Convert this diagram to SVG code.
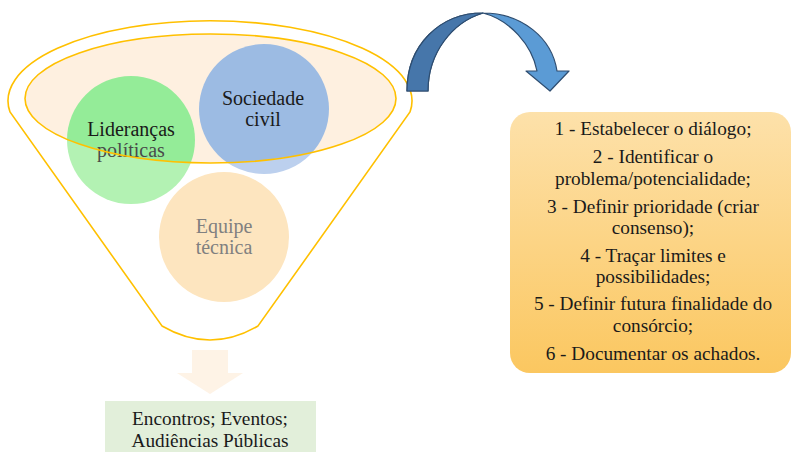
<svg xmlns="http://www.w3.org/2000/svg" width="793" height="452" viewBox="0 0 793 452">
<defs>
<style>
.t{font-family:"Liberation Serif","Times New Roman",serif;text-anchor:middle;fill:#1a1a1a}
.c{font-size:20px}
.b{font-size:19.3px}
.gold{fill:none;stroke:#FFC000;stroke-width:1.6}
</style>
<linearGradient id="boxg" x1="0" y1="0" x2="0" y2="1">
<stop offset="0" stop-color="#FDE1AA"/>
<stop offset="1" stop-color="#FBC760"/>
</linearGradient>
<clipPath id="inner"><ellipse cx="210.5" cy="98.5" rx="185.5" ry="64.5"/></clipPath>
</defs>
<rect width="793" height="452" fill="#ffffff"/>

<g id="funnel">
<path class="gold" d="M10,112 A202,80 0 1 1 410,112 L258,326 Q210,354 162,326 Z" fill="#ffffff"/>
</g>

<g id="circles-base">
<circle cx="131" cy="140" r="64" fill="#B3F2B3"/>
<circle cx="264" cy="109" r="65" fill="#BCD0EE"/>
<circle cx="224" cy="237" r="65" fill="#FDE5BF"/>
</g>

<g id="inner-ellipse">
<ellipse cx="210.5" cy="98.5" rx="185.5" ry="64.5" fill="#FEF0E0"/>
<g clip-path="url(#inner)">
<circle cx="131" cy="140" r="64" fill="#94EC98"/>
<circle cx="264" cy="109" r="65" fill="#9CBBE3"/>
</g>
</g>

<g id="node-liderancas">
<text class="t c" x="131" y="136">Lideranças</text>
<text class="t c" x="131" y="157" style="fill:#4a4a4a">políticas</text>
</g>
<g id="node-sociedade">
<text class="t c" x="263" y="105">Sociedade</text>
<text class="t c" x="263" y="126">civil</text>
</g>
<g id="node-equipe">
<text class="t c" x="224" y="233" style="fill:#808080">Equipe</text>
<text class="t c" x="224" y="254" style="fill:#808080">técnica</text>
</g>

<ellipse class="gold" cx="210.5" cy="98.5" rx="185.5" ry="64.5"/>

<g id="connectors">
<path d="M407,91 L428,91 C428,52 453,22 483,13 C510,20 532,45 537,71 L526,71 L550,91 L569,71 L557,71 C552,38 522,13 483,13 C440,13 407,45 407,91 Z" fill="#5B9BD5" stroke="#2E4D70" stroke-width="1.2" stroke-linejoin="round"/>
<path d="M407,91 L428,91 C428,52 453,22 483,13 C440,13 407,45 407,91 Z" fill="#4676AA" stroke="#2E4D70" stroke-width="1.2" stroke-linejoin="round"/>
<path d="M192,350 L228,350 L228,373 L243,373 L210,394 L177,373 L192,373 Z" fill="#FEF3E6"/>
</g>

<g id="node-steps">
<rect x="510" y="112" width="281" height="261" rx="20" fill="url(#boxg)"/>
<text class="t b" x="653" y="135">1 - Estabelecer o diálogo;</text>
<text class="t b" x="653" y="163">2 - Identificar o</text>
<text class="t b" x="653" y="185">problema/potencialidade;</text>
<text class="t b" x="653" y="213">3 - Definir prioridade (criar</text>
<text class="t b" x="653" y="234">consenso);</text>
<text class="t b" x="653" y="262">4 - Traçar limites e</text>
<text class="t b" x="653" y="283">possibilidades;</text>
<text class="t b" x="653" y="310">5 - Definir futura finalidade do</text>
<text class="t b" x="653" y="332">consórcio;</text>
<text class="t b" x="653" y="360">6 - Documentar os achados.</text>
</g>

<g id="node-encontros">
<rect x="105" y="401" width="211" height="51" fill="#E2EFDA"/>
<text class="t b" x="210" y="425">Encontros; Eventos;</text>
<text class="t b" x="210" y="447">Audiências Públicas</text>
</g>
</svg>
